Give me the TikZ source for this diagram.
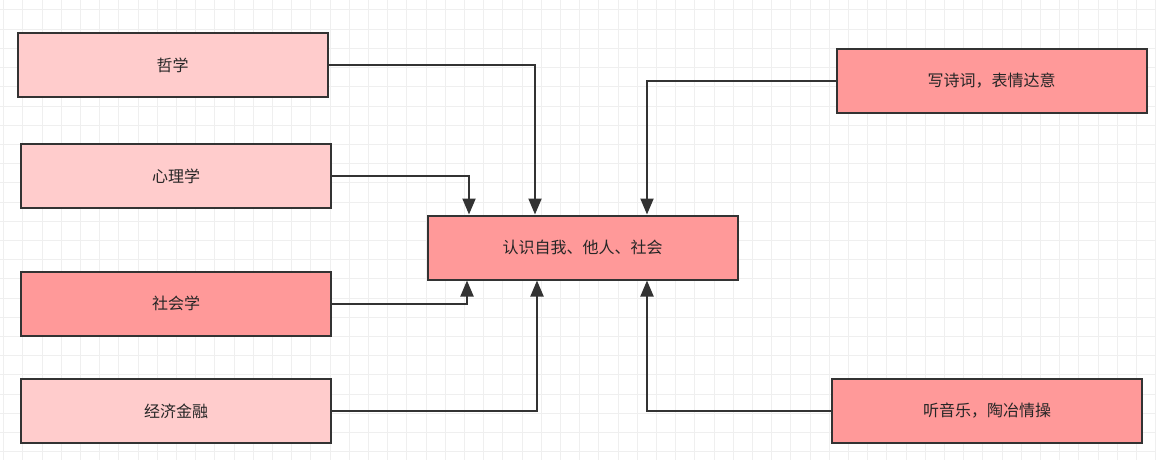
\documentclass[tikz,border=0pt]{standalone}
\usepackage{fontspec}
\setmainfont{Noto Sans CJK SC}
\usepackage{xcolor}
\usetikzlibrary{arrows.meta}
\definecolor{LightRose}{HTML}{FFCCCC}
\definecolor{DeepRose}{HTML}{FF9999}
\definecolor{EdgeGray}{HTML}{333333}
\definecolor{GridGray}{HTML}{EFEFEF}

\begin{document}
\begin{tikzpicture}[x=1pt,y=-1pt,
box/.style={draw=EdgeGray,line width=2pt,minimum width=310pt,minimum height=64pt,inner sep=0pt,font=\fontsize{16}{18}\selectfont,text=black!85},
arr/.style={-{Triangle[length=16pt,width=13pt]},line width=2pt,draw=EdgeGray},
gridline/.style={draw=GridGray,line width=1pt}
]
\useasboundingbox (0,0) rectangle (1156,460);
\fill[white] (0,0) rectangle (1156,460);
% background grid
\foreach \gx in {0,...,60} \draw[gridline] (3.6+19.2*\gx,0) -- (3.6+19.2*\gx,460);
\foreach \gy in {0,...,23} \draw[gridline] (0,10+19.2*\gy) -- (1156,10+19.2*\gy);

\node[box,fill=LightRose] (zhexue) at (172.5,65) {哲学};
\node[box,fill=LightRose] (xinli) at (176,176) {心理学};
\node[box,fill=DeepRose] (shehui) at (176,303.5) {社会学};
\node[box,fill=LightRose] (jingji) at (176,411) {经济金融};
\node[box,fill=DeepRose] (renshi) at (582.5,247.5) {认识自我、他人、社会};
\node[box,fill=DeepRose] (shici) at (991.5,81) {写诗词，表情达意};
\node[box,fill=DeepRose] (yinyue) at (987,411) {听音乐，陶冶情操};

\draw[arr] (zhexue.east) -| ([xshift=-47.5pt]renshi.north);
\draw[arr] (xinli.east) -| ([xshift=-113.5pt]renshi.north);
\draw[arr] (shehui.east) -| ([xshift=-115.5pt]renshi.south);
\draw[arr] (jingji.east) -| ([xshift=-45.5pt]renshi.south);
\draw[arr] (shici.west) -| ([xshift=64.5pt]renshi.north);
\draw[arr] (yinyue.west) -| ([xshift=64.5pt]renshi.south);
\end{tikzpicture}
\end{document}
